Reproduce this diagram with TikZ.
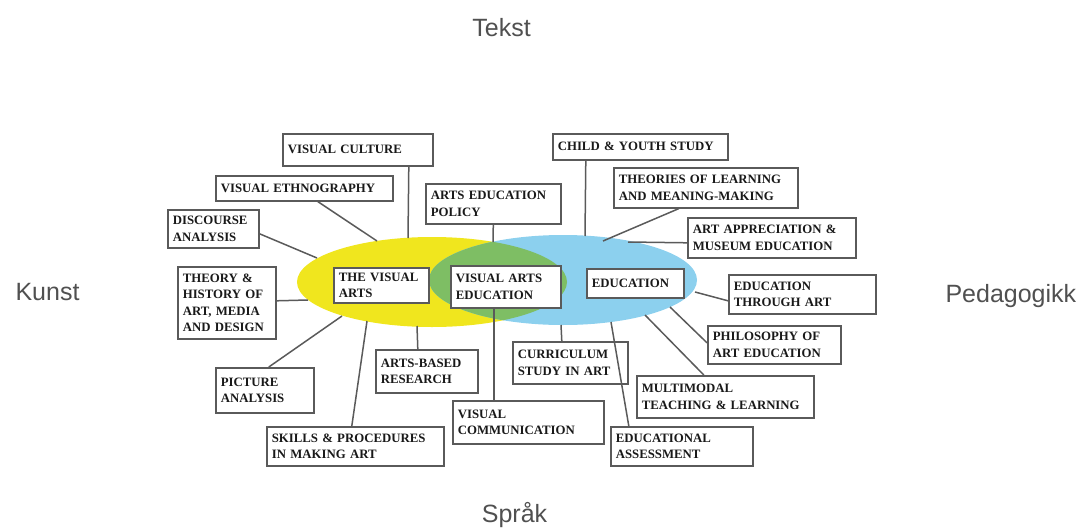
\documentclass[tikz,border=0pt]{standalone}
\usepackage{fontspec}
\newfontfamily\boxfont{Liberation Serif}
\newfontfamily\sidefont{Liberation Sans}
\definecolor{artyellow}{HTML}{F0E61E}
\definecolor{edublue}{HTML}{8CD0EE}
\definecolor{mixgreen}{HTML}{7EBE64}
\definecolor{boxgray}{HTML}{5A5A5A}
\definecolor{wordgray}{HTML}{505050}
\begin{document}
\begin{tikzpicture}[x=1pt,y=-1pt,
		topic/.style={draw=boxgray,line width=1.6pt,fill=white,anchor=north west,align=left,inner xsep=5pt,inner ysep=3pt,
			font=\boxfont\bfseries\fontsize{12.8}{16.5}\selectfont,text=black!90},
		link/.style={draw=boxgray,line width=1.5pt},
		side/.style={anchor=base,text=wordgray,font=\sidefont\fontsize{25}{30}\selectfont}]
			\useasboundingbox (0,0) rectangle (1078,527);

			\fill[artyellow] (432,282) ellipse [x radius=135pt,y radius=45pt];
			\fill[edublue] (563,280) ellipse [x radius=134pt,y radius=45pt];
			\begin{scope}
				\clip (432,282) ellipse [x radius=135pt,y radius=45pt];
				\fill[mixgreen] (563,280) ellipse [x radius=134pt,y radius=45pt];
			\end{scope}

			\node[side] (tekst) at (501.5,37) {Tekst};
			\node[side,anchor=base west] (kunst) at (12,300) {Kunst};
			\node[side,anchor=base west] (pedagogikk) at (942,302) {Pedagogikk};
			\node[side] (sprak) at (514.5,522) {Språk};

			% the three fields
			\node[topic,text width=85pt,minimum height=35pt] (visarts) at (333,267) {THE VISUAL\\ARTS};
			\node[topic,text width=100pt,minimum height=42pt] (vae) at (450,265) {VISUAL ARTS\\EDUCATION};
			\node[topic,text width=87pt,minimum height=29pt] (edu) at (586,268) {EDUCATION};

			% art side
			\node[topic,text width=140pt,minimum height=32pt] (vcult) at (282,133) {VISUAL CULTURE};
			\node[topic,text width=167pt,minimum height=25pt] (vethno) at (215,175) {VISUAL ETHNOGRAPHY};
			\node[topic,text width=81pt,minimum height=38pt] (disc) at (167,209) {DISCOURSE\\ANALYSIS};
			\node[topic,text width=88pt,minimum height=72pt] (theory) at (177,266) {THEORY \&\\HISTORY OF\\ART, MEDIA\\AND DESIGN};
			\node[topic,text width=88pt,minimum height=45pt] (picture) at (215,367) {PICTURE\\ANALYSIS};
			\node[topic,text width=167pt,minimum height=39pt] (skills) at (266,426) {SKILLS \& PROCEDURES\\IN MAKING ART};
			\node[topic,text width=92pt,minimum height=43pt] (abr) at (375,349) {ARTS-BASED\\RESEARCH};
			\node[topic,text width=125pt,minimum height=40pt] (aep) at (425,183) {ARTS EDUCATION\\POLICY};
			\node[topic,text width=141pt,minimum height=43pt] (vcomm) at (452,400) {VISUAL\\COMMUNICATION};

			% education side
			\node[topic,text width=165pt,minimum height=26pt] (child) at (552,133) {CHILD \& YOUTH STUDY};
			\node[topic,text width=174pt,minimum height=40pt] (theories) at (613,167) {THEORIES OF LEARNING\\AND MEANING-MAKING};
			\node[topic,text width=158pt,minimum height=40pt] (artapp) at (687,217) {ART APPRECIATION \&\\MUSEUM EDUCATION};
			\node[topic,text width=137pt,minimum height=39pt] (eta) at (728,274) {EDUCATION\\THROUGH ART};
			\node[topic,text width=123pt,minimum height=38pt] (philo) at (707,325) {PHILOSOPHY OF\\ART EDUCATION};
			\node[topic,text width=167pt,minimum height=42pt] (multi) at (636,375) {MULTIMODAL\\TEACHING \& LEARNING};
			\node[topic,text width=132pt,minimum height=39pt] (assess) at (610,426) {EDUCATIONAL\\ASSESSMENT};
			\node[topic,text width=105pt,minimum height=42pt] (curric) at (512,341) {CURRICULUM\\STUDY IN ART};

			% ends on the ellipses
			\coordinate (a1) at (408,238);
			\coordinate (a2) at (377,241);
			\coordinate (a3) at (317,258);
			\coordinate (a4) at (308,300);
			\coordinate (a5) at (342,316);
			\coordinate (a6) at (367,321);
			\coordinate (a7) at (417,326);
			\coordinate (b1) at (493,242);
			\coordinate (b2) at (585,236);
			\coordinate (b3) at (603,241);
			\coordinate (b4) at (628,242);
			\coordinate (b5) at (695,292);
			\coordinate (b6) at (670,307);
			\coordinate (b7) at (645,315);
			\coordinate (b8) at (611,322);
			\coordinate (b9) at (561,325);

			\draw[link] ([xshift=51pt]vcult.south) -- (a1);
			\draw[link] ([xshift=13.5pt]vethno.south) -- (a2);
			\draw[link] ([yshift=-5pt]disc.east) -- (a3);
			\draw[link] ([yshift=2pt]theory.east) -- (a4);
			\draw[link] ([xshift=4pt]picture.north) -- (a5);
			\draw[link] ([xshift=-3.5pt]skills.north) -- (a6);
			\draw[link] ([xshift=-9pt]abr.north) -- (a7);
			\draw[link] (aep.south) -- (b1);
			\draw[link] ([xshift=-12pt]vae.south) -- ([xshift=-34.5pt]vcomm.north);
			\draw[link] ([xshift=-54.5pt]child.south) -- (b2);
			\draw[link] ([xshift=-27pt]theories.south) -- (b3);
			\draw[link] ([yshift=-5pt]artapp.west) -- (b4);
			\draw[link] ([yshift=-6.5pt]eta.west) -- (b5);
			\draw[link] ([yshift=2pt]philo.west) -- (b6);
			\draw[link] ([xshift=-21.5pt]multi.north) -- (b7);
			\draw[link] ([xshift=-53pt]assess.north) -- (b8);
			\draw[link] ([xshift=-8.5pt]curric.north) -- (b9);
		\end{tikzpicture}
\end{document}
